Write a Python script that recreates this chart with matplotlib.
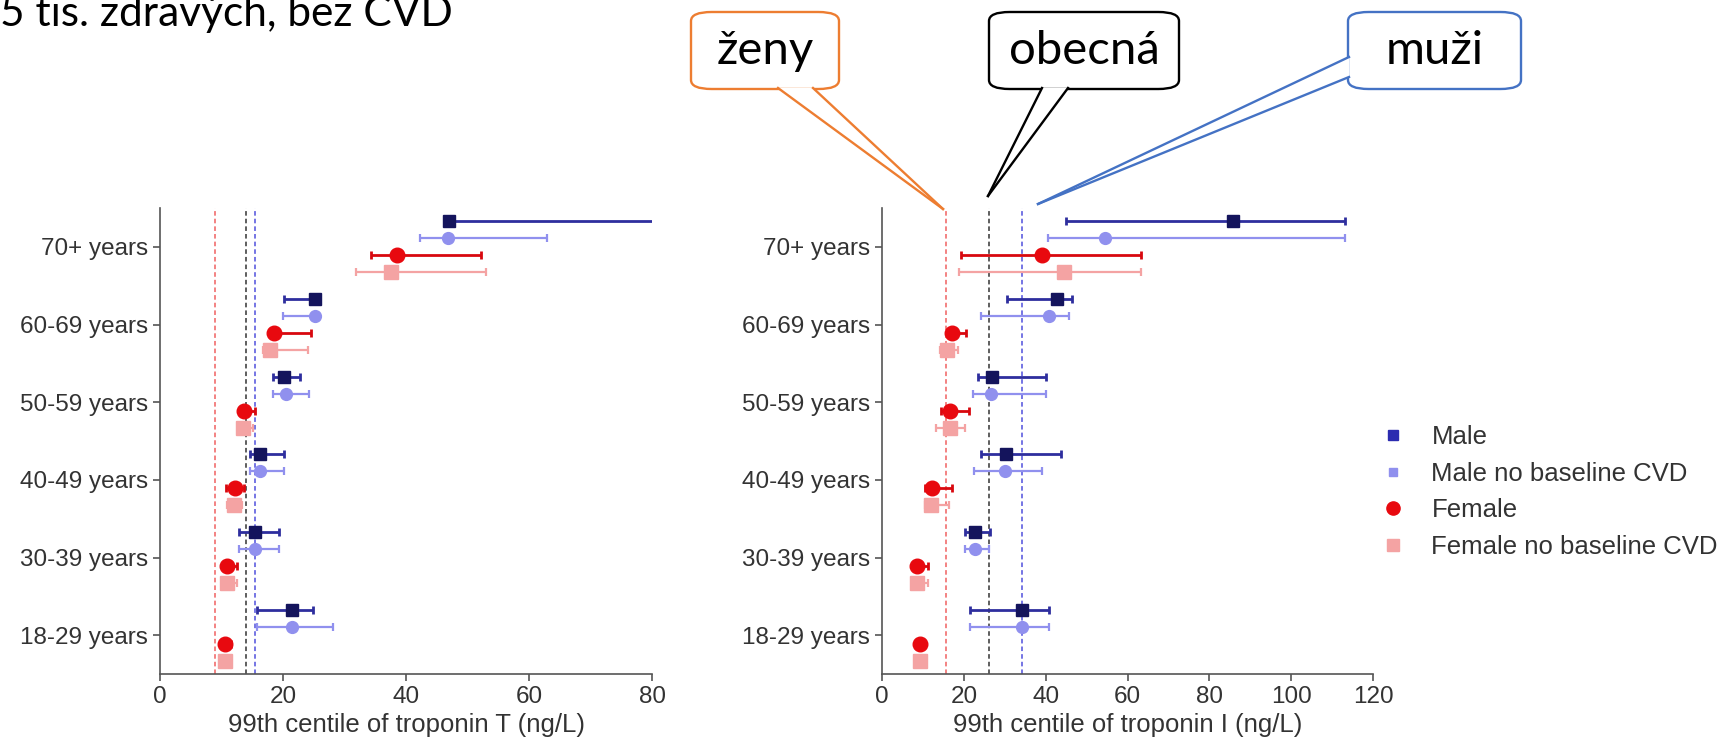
import matplotlib
matplotlib.use("Agg")
import matplotlib.pyplot as plt
from matplotlib.lines import Line2D
from matplotlib.patches import FancyBboxPatch, Polygon
import numpy as np

plt.rcParams["font.family"] = ["Liberation Sans", "DejaVu Sans"]

# ── data ─────────────────────────────────────────────────────────────────────
ages = ["18-29 years", "30-39 years", "40-49 years", "50-59 years", "60-69 years", "70+ years"]

# troponin T (ng/L): 99th centile and its CI
male_T        = [21.4, 15.4, 16.3, 20.2, 25.2, 47.0]
male_T_lo     = [15.8, 12.9, 14.6, 18.3, 20.2, 46.5]
male_T_hi     = [24.8, 19.4, 20.1, 22.8, 25.6, 85.0]
maleno_T      = [21.4, 15.4, 16.3, 20.5, 25.2, 46.9]
maleno_T_lo   = [15.8, 12.9, 14.6, 18.4, 20.0, 42.3]
maleno_T_hi   = [28.1, 19.4, 20.1, 24.3, 25.6, 63.0]
female_T      = [10.6, 10.9, 12.2, 13.6, 18.6, 38.5]
female_T_lo   = [9.9, 10.3, 10.8, 13.0, 18.0, 34.3]
female_T_hi   = [11.6, 12.6, 13.6, 15.4, 24.5, 52.2]
femaleno_T    = [10.6, 10.9, 12.1, 13.5, 17.9, 37.5]
femaleno_T_lo = [9.9, 10.2, 10.9, 12.8, 16.7, 31.9]
femaleno_T_hi = [11.5, 12.6, 13.3, 15.2, 24.1, 53.0]

# troponin I (ng/L)
male_I        = [34.3, 22.8, 30.2, 26.8, 42.8, 85.7]
male_I_lo     = [21.5, 20.4, 24.1, 23.5, 30.6, 44.9]
male_I_hi     = [40.8, 26.3, 43.8, 40.1, 46.5, 113.2]
maleno_I      = [34.3, 22.8, 30.0, 26.6, 40.8, 54.6]
maleno_I_lo   = [21.5, 20.4, 22.4, 22.3, 24.3, 40.5]
maleno_I_hi   = [40.8, 26.2, 39.0, 40.1, 45.8, 113.2]
female_I      = [9.2, 8.5, 12.1, 16.6, 17.2, 39.1]
female_I_lo   = [8.3, 7.5, 10.5, 14.5, 16.0, 19.2]
female_I_hi   = [10.3, 11.3, 17.2, 21.3, 20.6, 63.4]
femaleno_I    = [9.2, 8.5, 11.9, 16.6, 15.8, 44.6]
femaleno_I_lo = [8.3, 7.5, 10.5, 13.3, 14.1, 18.9]
femaleno_I_hi = [10.1, 11.3, 16.3, 20.2, 18.6, 63.4]

# reference cut-offs: female, overall, male
ref_T = [8.9, 14.0, 15.5]
ref_I = [15.6, 26.2, 34.2]

series_names = ["Male", "Male no baseline CVD", "Female", "Female no baseline CVD"]

# ── styles ───────────────────────────────────────────────────────────────────
TXT = "#333333"
styles = [
    dict(off=0.33,  fmt="s", ms=8.5, mfc="#14145c", ec="#2e2e9e", lw=2.0),
    dict(off=0.11,  fmt="o", ms=8.5, mfc="#9090ee", ec="#9090ee", lw=1.6),
    dict(off=-0.11, fmt="o", ms=10.5, mfc="#e8090f", ec="#d8080e", lw=2.0),
    dict(off=-0.33, fmt="s", ms=10, mfc="#f4a3a3", ec="#f4a3a3", lw=1.6),
]
ref_colors = ["#f06060", "#333333", "#5050dd"]

W, H = 1722, 749
fig = plt.figure(figsize=(W / 100, H / 100), dpi=100)
ax1 = fig.add_axes([160 / W, 1 - 674 / H, 492 / W, 466 / H])
ax2 = fig.add_axes([882 / W, 1 - 674 / H, 491 / W, 466 / H])

y = np.arange(len(ages))

def panel(ax, data, refs, xmax, xlabel):
    for r, c in zip(refs, ref_colors):
        ax.axvline(r, color=c, ls=(0, (3, 2)), lw=1.1, zorder=1)
    for (v, lo, hi), st in zip(data, styles):
        v, lo, hi = np.array(v), np.array(lo), np.array(hi)
        ax.errorbar(v, y + st["off"], xerr=[v - lo, hi - v], fmt=st["fmt"],
                    ms=st["ms"], mfc=st["mfc"], mec=st["mfc"], ecolor=st["ec"],
                    elinewidth=st["lw"], capsize=3, capthick=st["lw"], zorder=3)
    ax.set_xlim(0, xmax)
    ax.set_ylim(-0.5, 5.5)
    ax.set_xticks(np.arange(0, xmax + 1, 20))
    ax.set_yticks(y)
    ax.set_yticklabels(ages)
    ax.set_xlabel(xlabel, fontsize=18.5, color=TXT, labelpad=4)
    for s in ["top", "right"]:
        ax.spines[s].set_visible(False)
    for s in ["left", "bottom"]:
        ax.spines[s].set_color("#555555")
        ax.spines[s].set_linewidth(1.2)
    ax.tick_params(labelsize=17.5, labelcolor=TXT, color="#555555", length=5, width=1.2)

panel(ax1, [(male_T, male_T_lo, male_T_hi), (maleno_T, maleno_T_lo, maleno_T_hi),
            (female_T, female_T_lo, female_T_hi), (femaleno_T, femaleno_T_lo, femaleno_T_hi)],
      ref_T, 80, "99th centile of troponin T (ng/L)")
panel(ax2, [(male_I, male_I_lo, male_I_hi), (maleno_I, maleno_I_lo, maleno_I_hi),
            (female_I, female_I_lo, female_I_hi), (femaleno_I, femaleno_I_lo, femaleno_I_hi)],
      ref_I, 120, "99th centile of troponin I (ng/L)")

# legend
handles = [
    Line2D([], [], ls="none", marker="s", ms=6.5, color="#2b2bb0"),
    Line2D([], [], ls="none", marker="s", ms=6, color="#9090ee"),
    Line2D([], [], ls="none", marker="o", ms=9.5, color="#e8090f"),
    Line2D([], [], ls="none", marker="s", ms=8, color="#f4a3a3"),
]
leg = fig.legend(handles, series_names, loc="center left", bbox_to_anchor=(1380 / W, 1 - 492 / H),
                 frameon=False, fontsize=18.5, handlelength=1, handletextpad=1.0,
                 labelspacing=0.5, borderpad=0, borderaxespad=0)
for t in leg.get_texts():
    t.set_color(TXT)

# ── callouts ─────────────────────────────────────────────────────────────────
def px(x, yy):
    return (x / W, 1 - yy / H)

def callout(box, tail, text, color):
    x0, y0, x1, y1 = box
    b = FancyBboxPatch(px(x0, y1), (x1 - x0) / W, (y1 - y0) / H,
                       boxstyle="round,pad=0,rounding_size=0.012", transform=fig.transFigure,
                       fc="white", ec=color, lw=1.7, zorder=5)
    fig.add_artist(b)
    a, c, tip = tail
    fig.add_artist(Polygon([px(*a), px(*c), px(*tip)], closed=True, transform=fig.transFigure,
                           fc="white", ec="none", zorder=6))
    for p in (a, c):
        fig.add_artist(Line2D([px(*p)[0], px(*tip)[0]], [px(*p)[1], px(*tip)[1]],
                              transform=fig.transFigure, color=color, lw=1.7, zorder=7))
    fig.text((x0 + x1) / 2 / W, 1 - (y0 + y1) / 2 / H, text, ha="center", va="center",
             fontsize=34, family="Lato", color="black", zorder=8)

callout((691, 12, 839, 89), ((778, 88), (813, 88), (943, 209)), "ženy", "#ed7d31")
callout((989, 12, 1179, 89), ((1042, 88), (1068, 88), (988, 196)), "obecná", "black")
callout((1348, 12, 1521, 89), ((1349, 57), (1349, 77), (1038, 204)), "muži", "#4472c4")

fig.text(0, 1 - 26 / H, "5 tis. zdravých, bez CVD", ha="left", va="baseline",
         fontsize=30.5, family="Lato", color="black")

fig.savefig("out.png", dpi=100)
